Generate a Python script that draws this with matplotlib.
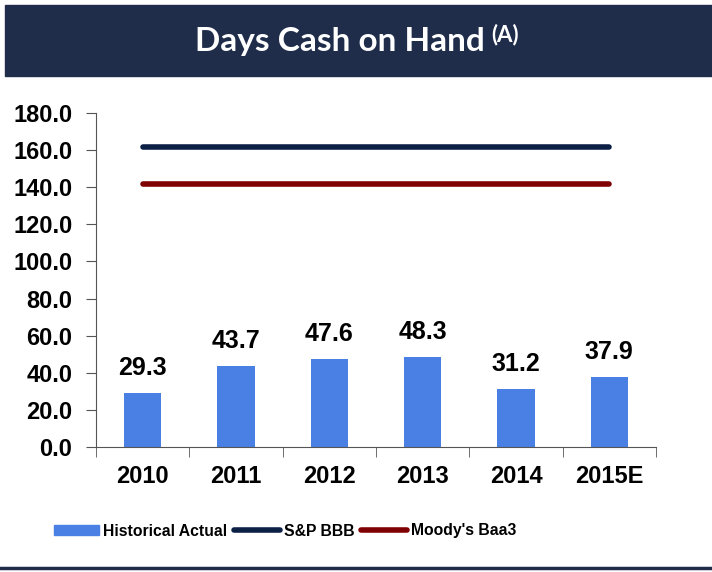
import matplotlib.pyplot as plt
from matplotlib.patches import Rectangle
from matplotlib.lines import Line2D
import numpy as np

years = ['2010', '2011', '2012', '2013', '2014', '2015E']
days_cash = [29.3, 43.7, 47.6, 48.3, 31.2, 37.9]
sp_bbb = 161.5
moodys_baa3 = 142.0

navy = '#1F2D4B'
bar_blue = '#4A7FE4'
sp_color = '#0C1F45'
moody_color = '#7F0000'

plt.rcParams['font.family'] = ['Liberation Sans', 'DejaVu Sans']

fig = plt.figure(figsize=(7.12, 5.72), dpi=100)

# title banner
fig.patches.append(Rectangle((5 / 712, 1 - 76 / 572), 707 / 712, 71 / 572,
                             transform=fig.transFigure, color=navy, zorder=0))
fig.text(195 / 712, 1 - 42 / 572, 'Days Cash on Hand', ha='left', va='center',
         color='white', fontsize=24, fontweight='bold', family=['Lato', 'DejaVu Sans'])
fig.text(491 / 712, 1 - 35 / 572, '(A)', ha='left', va='center',
         color='white', fontsize=16, fontweight='bold', family=['Lato', 'DejaVu Sans'])
# bottom rule
fig.add_artist(Line2D([0, 1], [1 - 568 / 572] * 2, transform=fig.transFigure,
                      color=navy, lw=2.5))

ax = fig.add_axes([96 / 712, 1 - 447 / 572, 560 / 712, 334 / 572])
x = np.arange(len(years))
ax.bar(x, days_cash, width=0.4, color=bar_blue, zorder=2)
for xi, v in zip(x, days_cash):
    ax.text(xi, v + 7, f'{v:.1f}', ha='center', va='bottom', fontsize=18, fontweight='bold')

ax.plot(x, [sp_bbb] * len(x), color=sp_color, lw=4, solid_capstyle='round', zorder=3)
ax.plot(x, [moodys_baa3] * len(x), color=moody_color, lw=4, solid_capstyle='round', zorder=3)

ax.set_xlim(-0.5, len(years) - 0.5)
ax.set_ylim(0, 180)
ax.set_yticks(np.arange(0, 181, 20))
ax.set_yticklabels([f'{t:.1f}' for t in np.arange(0, 181, 20)], fontsize=17, fontweight='bold')
ax.set_xticks(x)
ax.set_xticklabels(years, fontsize=17, fontweight='bold')
ax.set_xticks(np.arange(-0.5, len(years)), minor=True)
ax.tick_params(axis='x', which='major', length=0, pad=13)
ax.tick_params(axis='x', which='minor', length=7, color='#555555')
ax.tick_params(axis='y', length=7, color='#555555', pad=10)
for s in ['top', 'right']:
    ax.spines[s].set_visible(False)
ax.spines['left'].set_color('#555555')
ax.spines['bottom'].set_color('#555555')

handles = [Rectangle((0, 0), 1, 1, color=bar_blue),
           Line2D([], [], color=sp_color, lw=4, solid_capstyle='round'),
           Line2D([], [], color=moody_color, lw=4, solid_capstyle='round')]
fig.legend(handles, ['Historical Actual', 'S&P BBB', "Moody's Baa3"], loc='center',
           bbox_to_anchor=(285 / 712, 1 - 531 / 572), ncol=3, frameon=False,
           prop={'weight': 'bold', 'size': 11.3}, handlelength=2.9, handletextpad=0.25,
           columnspacing=0.45, handleheight=0.6)

fig.savefig('out.png', dpi=100)
